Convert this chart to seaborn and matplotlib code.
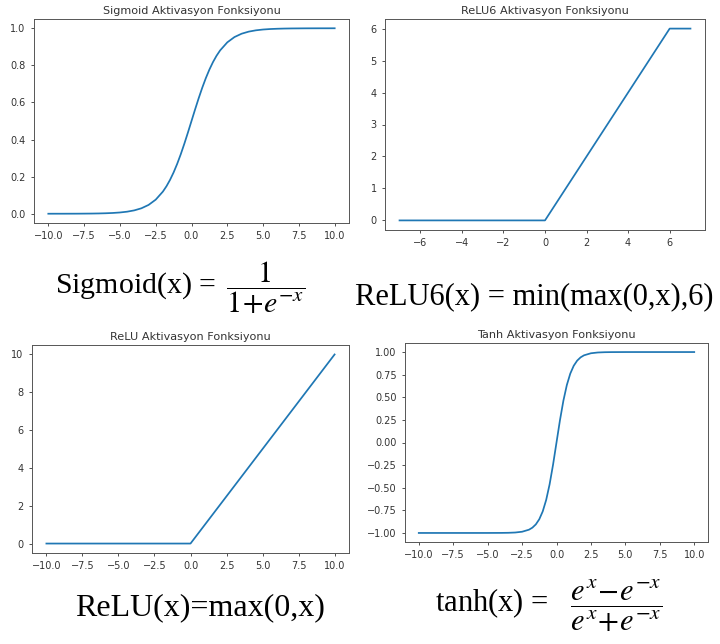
import matplotlib
matplotlib.use("Agg")
import matplotlib.pyplot as plt
import seaborn as sns
import pandas as pd

# ---- data ----
sig_x = [-10, -9.5, -9, -8.5, -8, -7.5, -7, -6.5, -6, -5.5, -5, -4.5, -4, -3.5, -3, -2.5, -2, -1.75, -1.5, -1.25,
         -1, -0.75, -0.5, -0.25, 0, 0.25, 0.5, 0.75, 1, 1.25, 1.5, 1.75, 2, 2.5, 3, 3.5, 4, 4.5, 5, 5.5, 6, 6.5,
         7, 7.5, 8, 8.5, 9, 9.5, 10]
sig_y = [0.0000, 0.0001, 0.0001, 0.0002, 0.0003, 0.0006, 0.0009, 0.0015, 0.0025, 0.0041, 0.0067, 0.0110, 0.0180,
         0.0293, 0.0474, 0.0759, 0.1192, 0.1480, 0.1824, 0.2227, 0.2689, 0.3208, 0.3775, 0.4378, 0.5000, 0.5622,
         0.6225, 0.6792, 0.7311, 0.7773, 0.8176, 0.8520, 0.8808, 0.9241, 0.9526, 0.9707, 0.9820, 0.9890, 0.9933,
         0.9959, 0.9975, 0.9985, 0.9991, 0.9994, 0.9997, 0.9998, 0.9999, 0.9999, 1.0000]

relu6_x = [-7, 0, 6, 7]
relu6_y = [0, 0, 6, 6]

relu_x = [-10, 0, 10]
relu_y = [0, 0, 10]

tanh_x = [-10, -9, -8, -7, -6, -5, -4, -3.5, -3, -2.5, -2, -1.75, -1.5, -1.25, -1, -0.75, -0.5, -0.25,
          0, 0.25, 0.5, 0.75, 1, 1.25, 1.5, 1.75, 2, 2.5, 3, 3.5, 4, 5, 6, 7, 8, 9, 10]
tanh_y = [-1.0, -1.0, -1.0, -1.0, -1.0, -0.9999, -0.9993, -0.9982, -0.9951, -0.9866, -0.9640, -0.9414, -0.9051,
          -0.8483, -0.7616, -0.6351, -0.4621, -0.2449, 0.0, 0.2449, 0.4621, 0.6351, 0.7616, 0.8483, 0.9051,
          0.9414, 0.9640, 0.9866, 0.9951, 0.9982, 0.9993, 0.9999, 1.0, 1.0, 1.0, 1.0, 1.0]

titles = ["Sigmoid Aktivasyon Fonksiyonu", "ReLU6 Aktivasyon Fonksiyonu",
          "ReLU Aktivasyon Fonksiyonu", "Tanh Aktivasyon Fonksiyonu"]

formulas = [r"Sigmoid(x) = $\,\dfrac{1}{1\!+\!e^{-x}}$",
            r"ReLU6(x) = min(max(0,x),6)",
            r"ReLU(x)=max(0,x)",
            r"tanh(x) =   $\dfrac{e^{x}\!-\!e^{-x}}{e^{x}\!+\!e^{-x}}$"]

tick10 = [-10.0, -7.5, -5.0, -2.5, 0.0, 2.5, 5.0, 7.5, 10.0]
tick10_lbl = ["−10.0", "−7.5", "−5.0", "−2.5", "0.0", "2.5", "5.0", "7.5", "10.0"]
sig_yt = [0.0, 0.2, 0.4, 0.6, 0.8, 1.0]
sig_yt_lbl = ["0.0", "0.2", "0.4", "0.6", "0.8", "1.0"]
relu6_xt = [-6, -4, -2, 0, 2, 4, 6]
relu6_yt = [0, 1, 2, 3, 4, 5, 6]
relu_yt = [0, 2, 4, 6, 8, 10]
tanh_yt = [-1.0, -0.75, -0.5, -0.25, 0.0, 0.25, 0.5, 0.75, 1.0]
tanh_yt_lbl = ["−1.00", "−0.75", "−0.50", "−0.25", "0.00", "0.25", "0.50", "0.75", "1.00"]

# ---- figure ----
plt.rcParams["mathtext.fontset"] = "stix"
W, H = 720, 644
fig = plt.figure(figsize=(W / 100, H / 100), dpi=100)
fig.patch.set_facecolor("white")

def rect(l, t, r, b):
    return [l / W, 1 - b / H, (r - l) / W, (b - t) / H]

rects = [rect(34, 19, 349, 223), rect(385, 19, 705, 230),
         rect(32, 345, 349, 553), rect(405, 343, 708, 542)]

datasets = [(sig_x, sig_y), (relu6_x, relu6_y), (relu_x, relu_y), (tanh_x, tanh_y)]

axes = []
for r, (xs, ys), title in zip(rects, datasets, titles):
    ax = fig.add_axes(r)
    df = pd.DataFrame({"x": xs, "y": ys})
    sns.lineplot(data=df, x="x", y="y", ax=ax, color="#1f77b4", linewidth=1.25)
    ax.set_xlabel("")
    ax.set_ylabel("")
    ax.set_title(title, fontsize=8.1, color="#333333", pad=3.5)
    ax.tick_params(labelsize=7.0, colors="#333333", length=2.5, width=0.6)
    for s in ax.spines.values():
        s.set_color("#555555")
        s.set_linewidth(0.7)
    axes.append(ax)

axes[0].set_xticks(tick10)
axes[0].set_xticklabels(tick10_lbl)
axes[0].set_yticks(sig_yt)
axes[0].set_yticklabels(sig_yt_lbl)
axes[1].set_xticks(relu6_xt)
axes[1].set_yticks(relu6_yt)
axes[2].set_xticks(tick10)
axes[2].set_xticklabels(tick10_lbl)
axes[2].set_yticks(relu_yt)
axes[3].set_xticks(tick10)
axes[3].set_xticklabels(tick10_lbl)
axes[3].set_yticks(tanh_yt)
axes[3].set_yticklabels(tanh_yt_lbl)

pos = [(55, 288), (355, 297), (75, 608), (435, 606)]
sizes = [21.5, 22, 23, 22]
for (px, py), f, fs in zip(pos, formulas, sizes):
    fig.text(px / W, 1 - py / H, f, ha="left", va="center", fontsize=fs,
             family=["Liberation Serif", "DejaVu Serif"], color="black")

fig.savefig("out.png", dpi=100)
